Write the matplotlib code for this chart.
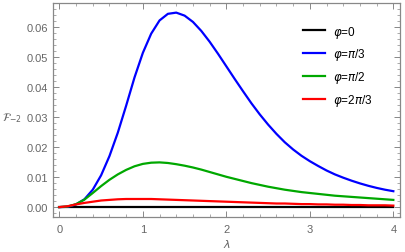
import matplotlib
matplotlib.use("Agg")
import matplotlib.pyplot as plt
import numpy as np
from matplotlib.ticker import MultipleLocator

GRAY = "#888888"
TXT = "#666666"

# lambda grid and curve values
LAM = [0.0, 0.1, 0.2, 0.3, 0.4, 0.5, 0.6, 0.7, 0.8, 0.9,
       1.0, 1.1, 1.2, 1.3, 1.4, 1.5, 1.6, 1.7, 1.8, 1.9,
       2.0, 2.1, 2.2, 2.3, 2.4, 2.5, 2.6, 2.7, 2.8, 2.9,
       3.0, 3.1, 3.2, 3.3, 3.4, 3.5, 3.6, 3.7, 3.8, 3.9, 4.0]

F_PHI0 = [0.0] * len(LAM)

F_PI3 = [0.0, 0.0001, 0.0009, 0.0026, 0.0058, 0.0106, 0.0170, 0.0248, 0.0338, 0.0432,
         0.0514, 0.0578, 0.0622, 0.0644, 0.0648, 0.0638, 0.0617, 0.0587, 0.0551, 0.0511,
         0.0469, 0.0427, 0.0386, 0.0346, 0.0309, 0.0275, 0.0244, 0.0216, 0.0192, 0.0171,
         0.0153, 0.0137, 0.0122, 0.0109, 0.0098, 0.0088, 0.0079, 0.0071, 0.0064, 0.0058, 0.0053]

F_PI2 = [0.0, 0.0002, 0.0010, 0.0025, 0.0047, 0.0070, 0.0091, 0.0109, 0.0124, 0.0136,
         0.0144, 0.0148, 0.0149, 0.0147, 0.0143, 0.0138, 0.0132, 0.0125, 0.0117, 0.0109,
         0.0101, 0.0094, 0.0087, 0.0080, 0.0074, 0.0068, 0.0063, 0.0058, 0.0054, 0.0050,
         0.0047, 0.0044, 0.0041, 0.0038, 0.0036, 0.0034, 0.0032, 0.0030, 0.0028, 0.0026, 0.0024]

F_2PI3 = [0.0, 0.0003, 0.0009, 0.0014, 0.0018, 0.0022, 0.0024, 0.0026, 0.0027, 0.0027,
          0.0027, 0.0027, 0.0026, 0.0025, 0.0024, 0.0023, 0.0022, 0.0021, 0.0020, 0.0019,
          0.0018, 0.0017, 0.0016, 0.0015, 0.0014, 0.0013, 0.0012, 0.0012, 0.0011, 0.0010,
          0.0010, 0.0009, 0.0009, 0.0008, 0.0008, 0.0007, 0.0007, 0.0006, 0.0006, 0.0006, 0.0005]

LABELS = [r"$\varphi$=0", r"$\varphi$=$\pi$/3", r"$\varphi$=$\pi$/2", r"$\varphi$=2$\pi$/3"]
COLORS = ["black", "#0000ff", "#00a800", "#ff0000"]

plt.rcParams.update({
    "font.family": ["Liberation Sans", "DejaVu Sans"],
    "mathtext.fontset": "dejavusans",
})

fig = plt.figure(figsize=(4.05, 2.53), dpi=100)
ax = fig.add_axes([0.1309, 0.1383, 0.8568, 0.8458])

for ys, c, lab in zip([F_PHI0, F_PI3, F_PI2, F_2PI3], COLORS, LABELS):
    ax.plot(LAM, ys, color=c, lw=1.6, label=lab, solid_joinstyle="round")

ax.set_xlim(-0.076, 4.08)
ax.set_ylim(-0.0033, 0.068)

ax.xaxis.set_major_locator(MultipleLocator(1))
ax.xaxis.set_minor_locator(MultipleLocator(0.2))
ax.yaxis.set_major_locator(MultipleLocator(0.01))
ax.yaxis.set_minor_locator(MultipleLocator(0.002))
ax.yaxis.set_major_formatter(matplotlib.ticker.FormatStrFormatter("%.2f"))

for s in ax.spines.values():
    s.set_color(GRAY)
    s.set_linewidth(0.9)
ax.tick_params(which="both", direction="in", top=True, right=True, colors=GRAY,
               labelcolor=TXT, labelsize=8)
ax.tick_params(which="major", length=4, width=0.7)
ax.tick_params(which="minor", length=2, width=0.5)
ax.tick_params(axis="x", pad=5)

ax.set_xlabel(r"$\lambda$", color=TXT, fontsize=8, labelpad=2)
fig.text(0.005, 0.535, r"$\mathcal{F}_{-2}$", color=TXT, fontsize=8,
         ha="left", va="center")

ax.legend(loc="upper left", bbox_to_anchor=(0.722, 0.945), bbox_transform=fig.transFigure,
          frameon=False, fontsize=8.5, handlelength=1.9, handletextpad=0.6,
          labelspacing=0.58)

fig.savefig("out.png", dpi=100)
